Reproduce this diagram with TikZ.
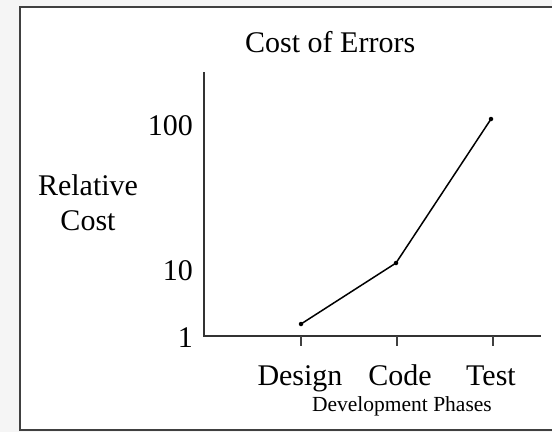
\documentclass[tikz,border=0pt]{standalone}
\usepackage{fontspec}
\setmainfont{Liberation Serif}
\begin{document}
\begin{tikzpicture}[x=1pt,y=-1pt,
  big/.style={font=\fontsize{30}{36}\selectfont, inner sep=0pt},
  small/.style={font=\fontsize{21.5}{25}\selectfont, inner sep=0pt},
  axis/.style={line width=2pt, draw=black!80},
  tickmark/.style={line width=1.4pt, draw=black!75},
  curve/.style={line width=1.5pt, draw=black},
  dot/.style={circle, fill=black, inner sep=0pt, minimum size=4.5pt}]
  % page and panel
  \useasboundingbox (0,0) rectangle (552,432);
  \fill[black!4] (0,0) rectangle (552,432);
  \draw[line width=1.6pt, draw=black!75, fill=white] (20,7) rectangle (570,430);

  % axes
  \coordinate (ytop) at (204,72);
  \coordinate (origin) at (204,336);
  \coordinate (xend) at (541,336);
  \draw[axis] (ytop) -- (origin) -- (xend);

  % ticks on the phase axis
  \coordinate (tD) at (301,336);
  \coordinate (tC) at (397,336);
  \coordinate (tT) at (493,336);
  \coordinate (tDb) at (301,346);
  \coordinate (tCb) at (397,346);
  \coordinate (tTb) at (493,346);
  \draw[tickmark] (tD) -- (tDb);
  \draw[tickmark] (tC) -- (tCb);
  \draw[tickmark] (tT) -- (tTb);

  % data points
  \node[dot] (pD) at (301,324) {};
  \node[dot] (pC) at (396,263) {};
  \node[dot] (pT) at (491,119) {};
  \draw[curve] (pD.center) -- (pC.center) -- (pT.center);

  % labels
  \node[big, anchor=base west] (title) at (245,52) {Cost of Errors};
  \node[big, anchor=base east] (v100) at (193,135) {100};
  \node[big, anchor=base east] (v10) at (193,280) {10};
  \node[big, anchor=base east] (v1) at (193,347) {1};
  \node[big, anchor=base] (rel) at (88,195) {Relative};
  \node[big, anchor=base] (cost) at (88,230) {Cost};
  \node[big, anchor=base] (lD) at (300,385) {Design};
  \node[big, anchor=base] (lC) at (400,385) {Code};
  \node[big, anchor=base] (lT) at (491,385) {Test};
  \node[small, anchor=base east] (dev) at (492,411) {Development Phases};
\end{tikzpicture}
\end{document}
